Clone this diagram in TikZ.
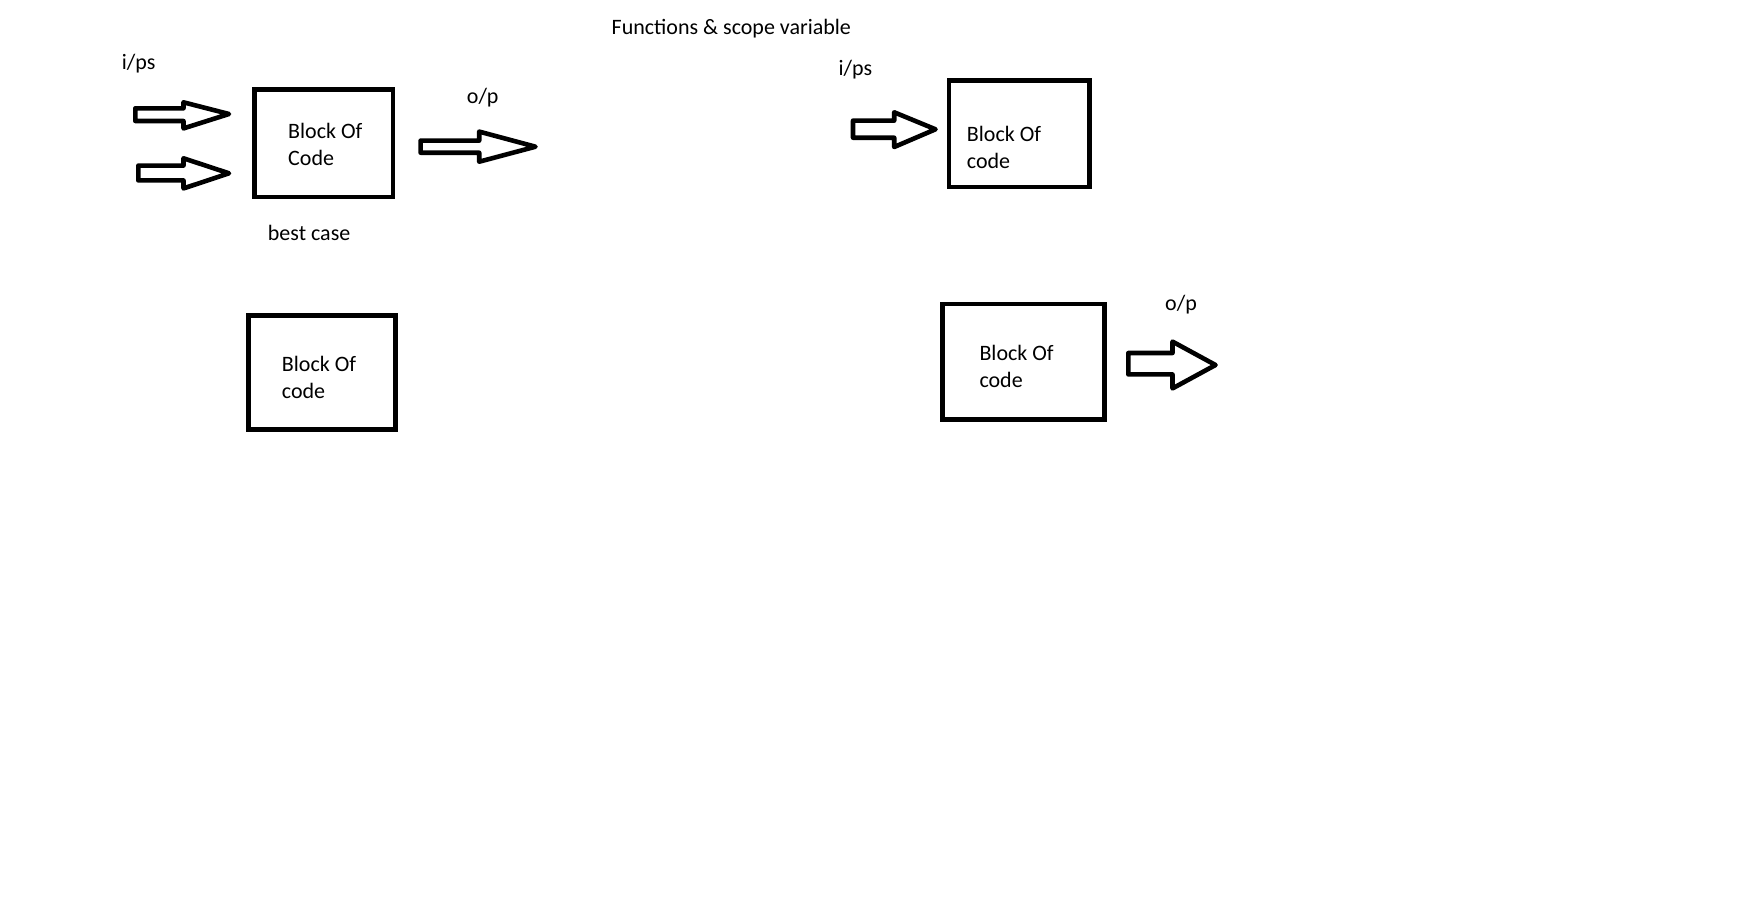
\documentclass[tikz,border=0pt]{standalone}
\usepackage{fontspec}
\setmainfont{Carlito}
\begin{document}
\begin{tikzpicture}[x=1pt,y=-1pt,
  blk/.style={draw=black,line width=4.7pt,rectangle,inner sep=0pt,line join=miter},
  lbl/.style={anchor=base west,inner sep=0pt,font=\fontsize{22}{27}\selectfont,text=black},
  txt/.style={lbl,align=left},
  fatarrow/.style={draw=black,line width=4.6pt,line join=round,fill=white}]
\useasboundingbox (0,0) rectangle (1761,903);
% title
\node[lbl] (title) at (611.5,34.3) {Functions \& scope variable};
% boxes
\node[blk,minimum width=138.5pt,minimum height=107.5pt] (b1) at (323.75,143.25) {};
\node[blk,minimum width=147pt,minimum height=113.8pt] (b2) at (321.8,372.5) {};
\node[blk,minimum width=140.3pt,minimum height=106.4pt] (b3) at (1019.15,133.8) {};
\node[blk,minimum width=162pt,minimum height=115.4pt] (b4) at (1023.3,361.7) {};
% box texts (base = last line)
\node[txt] (t1) at (288,165) {Block Of\\Code};
\node[txt] (t2) at (281.7,398) {Block Of\\code};
\node[txt] (t3) at (966.7,168.7) {Block Of\\code};
\node[txt] (t4) at (979.3,387) {Block Of\\code};
% labels
\node[lbl] (ips1) at (121.7,69) {i/ps};
\node[lbl] (op1) at (466.7,103) {o/p};
\node[lbl] (best) at (267.7,240) {best case};
\node[lbl] (ips2) at (838.3,75) {i/ps};
\node[lbl] (op2) at (1165,310) {o/p};
% hollow arrows
\draw[fatarrow] (135.3,108.3) -- (183.5,108.3) -- (183.5,102.3) -- (229,114) -- (183.5,128.4) -- (183.5,121) -- (135.3,121) -- cycle;
\draw[fatarrow] (138.3,165.6) -- (183.5,165.6) -- (183.5,158.3) -- (229,173.3) -- (183.5,188.4) -- (183.5,180.4) -- (138.3,180.4) -- cycle;
\draw[fatarrow] (420.6,140.6) -- (479.2,140.6) -- (479.2,131.6) -- (535.5,146.7) -- (479.2,161.7) -- (479.2,152.7) -- (420.6,152.7) -- cycle;
\draw[fatarrow] (853,120.6) -- (894.2,120.6) -- (894.2,112.3) -- (935.5,129.3) -- (894.2,147) -- (894.2,137.7) -- (853,137.7) -- cycle;
\draw[fatarrow] (1128.3,353) -- (1172.5,353) -- (1172.5,341.6) -- (1215.5,365) -- (1172.5,388.4) -- (1172.5,374.4) -- (1128.3,374.4) -- cycle;
\end{tikzpicture}
\end{document}
